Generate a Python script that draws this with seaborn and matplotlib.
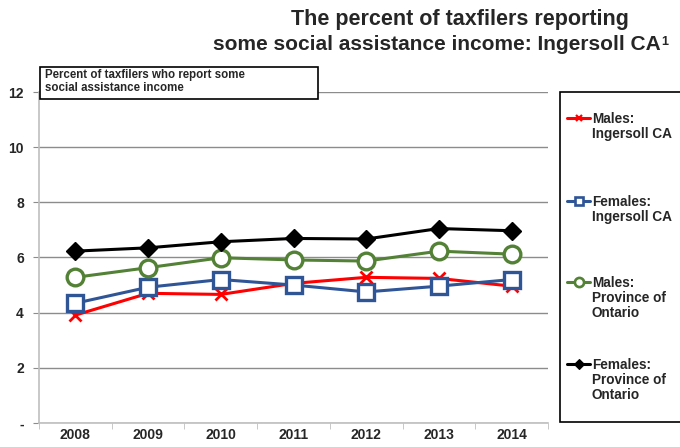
import matplotlib
matplotlib.use("Agg")
import matplotlib.pyplot as plt
from matplotlib.lines import Line2D
from matplotlib.patches import Rectangle
import seaborn as sns
import pandas as pd

years = [2008, 2009, 2010, 2011, 2012, 2013, 2014]
males_ingersoll = [3.91, 4.70, 4.66, 5.06, 5.28, 5.24, 4.96]
females_ingersoll = [4.34, 4.92, 5.20, 5.00, 4.75, 4.96, 5.20]
males_ontario = [5.28, 5.63, 5.99, 5.91, 5.87, 6.23, 6.12]
females_ontario = [6.23, 6.35, 6.57, 6.69, 6.67, 7.05, 6.97]

series_labels = ["Males:\nIngersoll CA", "Females:\nIngersoll CA",
                 "Males:\nProvince of\nOntario", "Females:\nProvince of\nOntario"]
y_ticks = [0, 2, 4, 6, 8, 10, 12]
y_tick_labels = ["-", "2", "4", "6", "8", "10", "12"]

sns.set_style("white")
plt.rcParams["font.family"] = ["Liberation Sans", "DejaVu Sans"]

fig = plt.figure(figsize=(6.8, 4.47), dpi=100)
ax = fig.add_axes([0.0574, 0.054, 0.7485, 0.740])

# colour, marker, size, face, edge width
styles = [
    ("#ff0000", "x", 9, "#ff0000", 2.0),
    ("#2f5597", "s", 11, "white", 2.4),
    ("#538135", "o", 12, "white", 2.4),
    ("#000000", "D", 9, "#000000", 1.0),
]
values = [males_ingersoll, females_ingersoll, males_ontario, females_ontario]

for vals, label, (color, marker, ms, face, mew) in zip(values, series_labels, styles):
    df = pd.DataFrame({"year": years, "pct": vals})
    sns.lineplot(data=df, x="year", y="pct", ax=ax, color=color, linewidth=2.2,
                 marker=marker, markersize=ms, markerfacecolor=face,
                 markeredgecolor=color, markeredgewidth=mew, legend=False)

ax.set_xlim(2007.5, 2014.5)
ax.set_ylim(0, 12)
ax.set_xticks(years)
ax.set_xticklabels([str(y) for y in years], fontsize=10, fontweight="bold")
ax.set_yticks(y_ticks)
ax.set_yticklabels(y_tick_labels, fontsize=10, fontweight="bold")
ax.set_xlabel("")
ax.set_ylabel("")
ax.yaxis.grid(True, color="#8c8c8c", linewidth=1)
ax.set_axisbelow(True)
for side in ["top", "right"]:
    ax.spines[side].set_visible(False)
for side in ["left", "bottom"]:
    ax.spines[side].set_color("#bfbfbf")
    ax.spines[side].set_linewidth(1.2)
ax.tick_params(axis="y", which="both", left=True, length=4, color="#8c8c8c", pad=7)
ax.set_xticks([y - 0.5 for y in years] + [years[-1] + 0.5], minor=True)
ax.tick_params(axis="x", which="major", bottom=False, length=0, pad=4)
ax.tick_params(axis="x", which="minor", bottom=True, length=4, color="#bfbfbf")

# legend box on the right, handles aligned with the first line of each label
fig.add_artist(Rectangle((560 / 680, 1 - 422 / 447), 0.2, (422 - 92) / 447,
                         transform=fig.transFigure, facecolor="white",
                         edgecolor="black", linewidth=1.2))
legend_tops = [118, 201, 282, 364]
for top, label, (color, marker, ms, face, mew) in zip(legend_tops, series_labels, styles):
    yf = 1 - top / 447
    fig.add_artist(Line2D([567 / 680, 590 / 680], [yf, yf], transform=fig.transFigure,
                          color=color, linewidth=2.2))
    fig.add_artist(Line2D([578.5 / 680], [yf], transform=fig.transFigure, color=color,
                          marker=marker, markersize=ms * 0.55, markerfacecolor=face,
                          markeredgecolor=color, markeredgewidth=mew * 0.8))
    fig.text(592 / 680, yf + 6 / 447, label, ha="left", va="top", fontsize=9.8,
             fontweight="bold", linespacing=1.1)

fig.text(460 / 680, 1 - 20 / 447, "The percent of taxfilers reporting", ha="center",
         va="center", fontsize=15.5, fontweight="bold")
t2 = fig.text(437 / 680, 1 - 44 / 447, "some social assistance income: Ingersoll CA",
              ha="center", va="center", fontsize=15, fontweight="bold")
ax.annotate("1", xy=(1, 1), xycoords=t2, xytext=(0.5, -1), textcoords="offset points",
            ha="left", va="top", fontsize=9, fontweight="bold", annotation_clip=False)

fig.add_artist(Rectangle((40 / 680, 1 - 99 / 447), 278 / 680, 32 / 447,
                         transform=fig.transFigure, facecolor="white",
                         edgecolor="black", linewidth=1.2))
fig.text(45 / 680, 1 - 69 / 447, "Percent of taxfilers who report some\nsocial assistance income",
         ha="left", va="top", fontsize=8.3, fontweight="bold", linespacing=1.1)

fig.savefig("out.png", dpi=100)
